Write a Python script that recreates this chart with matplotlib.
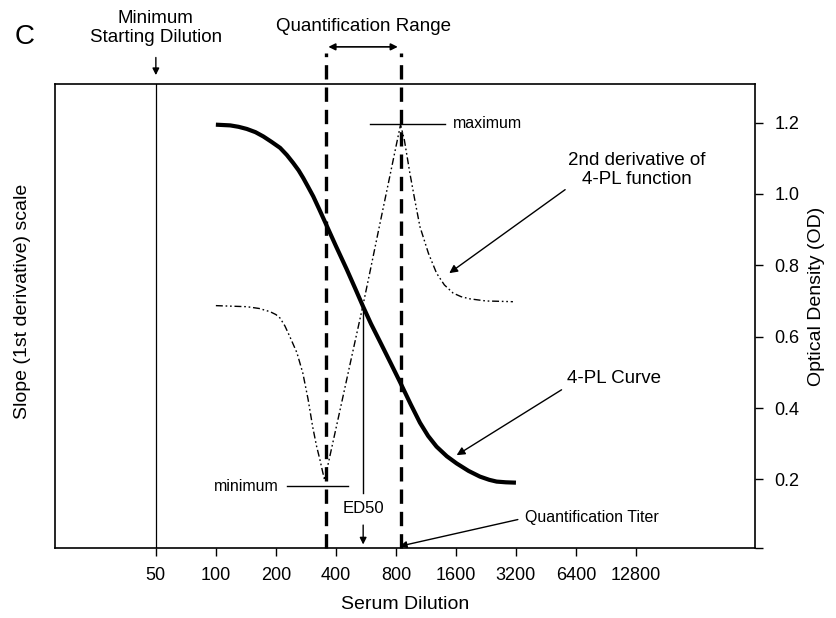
import matplotlib
matplotlib.use("Agg")
import matplotlib.pyplot as plt

plt.rcParams['font.family'] = ['Liberation Sans', 'DejaVu Sans']

# values
dilution_ticks = [50, 100, 200, 400, 800, 1600, 3200, 6400, 12800]
od_ticks = [0.2, 0.4, 0.6, 0.8, 1.0, 1.2]

# 4-PL curve (OD)
pl4_dil = [100, 118, 130, 143, 158, 173, 190, 210, 227, 244, 260, 274, 290,
           308, 330, 355, 400, 453, 500, 548, 600, 663, 750, 837, 950, 1056,
           1160, 1279, 1440, 1612, 1850, 2111, 2350, 2560, 2850, 3200]
pl4_od = [1.194, 1.192, 1.188, 1.182, 1.173, 1.161, 1.146, 1.129, 1.109, 1.087,
          1.066, 1.045, 1.020, 0.993, 0.957, 0.918, 0.854, 0.789, 0.735, 0.684,
          0.636, 0.588, 0.528, 0.474, 0.410, 0.359, 0.322, 0.292, 0.265, 0.245,
          0.224, 0.208, 0.199, 0.194, 0.192, 0.191]

# 2nd derivative (drawn on the same vertical scale)
sd_dil = [100, 143, 165, 187, 200, 210, 222, 235, 255, 273, 290, 306, 320, 333,
          343, 351, 385, 419, 480, 545, 594, 663, 744, 800, 844, 882, 940, 995,
          1056, 1164, 1279, 1400, 1550, 1700, 1881, 2270, 2700, 3090]
sd_val = [0.687, 0.684, 0.679, 0.670, 0.662, 0.652, 0.630, 0.600, 0.555, 0.498,
          0.425, 0.347, 0.293, 0.254, 0.222, 0.198, 0.300, 0.393, 0.544, 0.684,
          0.784, 0.913, 1.047, 1.132, 1.194, 1.151, 1.058, 0.983, 0.908, 0.834,
          0.778, 0.745, 0.722, 0.712, 0.706, 0.700, 0.699, 0.698]

min_start = 50
q_low, q_high = 355, 844
ed50 = 548
ed50_od = 0.683

fig = plt.figure(figsize=(8.36, 6.18), dpi=100)
ax = fig.add_axes([0.0658, 0.1133, 0.8373, 0.7508])

ax.plot(pl4_dil, pl4_od, color='black', lw=3.0, solid_capstyle='butt',
        solid_joinstyle='round')
ax.plot(sd_dil, sd_val, color='black', lw=1.0, dashes=(5, 2, 1.2, 2, 1.2, 2))

ax.set_xscale('log', base=2)
ax.set_xlim(15.6, 50600)
ax.set_ylim(0.008, 1.308)

ax.set_xticks(dilution_ticks)
ax.set_xticklabels([str(d) for d in dilution_ticks])
ax.xaxis.set_minor_locator(matplotlib.ticker.NullLocator())
ax.yaxis.tick_right()
ax.set_yticks([0.008] + od_ticks)
ax.set_yticklabels([''] + ['%.1f' % v for v in od_ticks])
ax.tick_params(axis='both', direction='out', length=6, width=1, labelsize=13, pad=8)
for s in ax.spines.values():
    s.set_linewidth(1.2)

ax.set_xlabel('Serum Dilution', fontsize=14, labelpad=8)
fig.text(0.977, 0.52, 'Optical Density (OD)', rotation=90,
         fontsize=14, ha='center', va='center')
fig.text(0.027, 0.513, 'Slope (1st derivative) scale', rotation=90,
         fontsize=14, ha='center', va='center')

# minimum starting dilution
ax.axvline(min_start, color='black', lw=0.9)
ax.text(min_start, 1.465, 'Minimum\nStarting Dilution', ha='center', va='center',
        fontsize=13.5, linespacing=1.2, clip_on=False)
ax.annotate('', xy=(min_start, 1.325), xytext=(min_start, 1.39),
            arrowprops=dict(arrowstyle='-|>', color='black', lw=1, mutation_scale=10),
            annotation_clip=False)

# quantification range
for q in (q_low, q_high):
    ax.plot([q, q], [0.008, 1.395], color='black', lw=2.4, dashes=(4.3, 2.4),
            clip_on=False)
ax.annotate('', xy=(q_low, 1.412), xytext=(q_high, 1.412),
            arrowprops=dict(arrowstyle='<|-|>', color='black', lw=1.2, mutation_scale=10),
            annotation_clip=False)
ax.text(547, 1.47, 'Quantification Range', ha='center', va='center',
        fontsize=13.5, clip_on=False)

# minimum / maximum markers
ax.plot([227, 459], [0.181, 0.181], color='black', lw=1)
ax.text(207, 0.181, 'minimum', ha='right', va='center', fontsize=11.5)
ax.plot([594, 1406], [1.196, 1.196], color='black', lw=1)
ax.text(1540, 1.196, 'maximum', ha='left', va='center', fontsize=11.5)

# ED50
ax.plot([ed50, ed50], [0.162, ed50_od], color='black', lw=1)
ax.text(ed50, 0.12, 'ED50', ha='center', va='center', fontsize=12)
ax.annotate('', xy=(ed50, 0.01), xytext=(ed50, 0.08),
            arrowprops=dict(arrowstyle='-|>', color='black', lw=1, mutation_scale=10))

# labels with arrows
ax.annotate('2nd derivative of\n4-PL function', xy=(1481, 0.778), xytext=(12900, 1.067),
            ha='center', va='center', fontsize=13.5, linespacing=1.1,
            arrowprops=dict(arrowstyle='-|>', color='black', lw=1, mutation_scale=12,
                            shrinkA=0, shrinkB=0, relpos=(0.0, 0.0)))
ax.annotate('4-PL Curve', xy=(1613, 0.268), xytext=(5750, 0.484),
            ha='left', va='center', fontsize=13.5,
            arrowprops=dict(arrowstyle='-|>', color='black', lw=1, mutation_scale=12,
                            shrinkA=2, shrinkB=0, relpos=(0.0, 0.0)))
ax.annotate('Quantification Titer', xy=(837, 0.013), xytext=(3540, 0.092),
            ha='left', va='center', fontsize=11.5,
            arrowprops=dict(arrowstyle='-|>', color='black', lw=1, mutation_scale=10,
                            shrinkA=3, shrinkB=0, relpos=(0.0, 0.5)))

fig.text(0.03, 0.94, 'C', fontsize=20, ha='center', va='center')

fig.savefig('out.png', dpi=100)
